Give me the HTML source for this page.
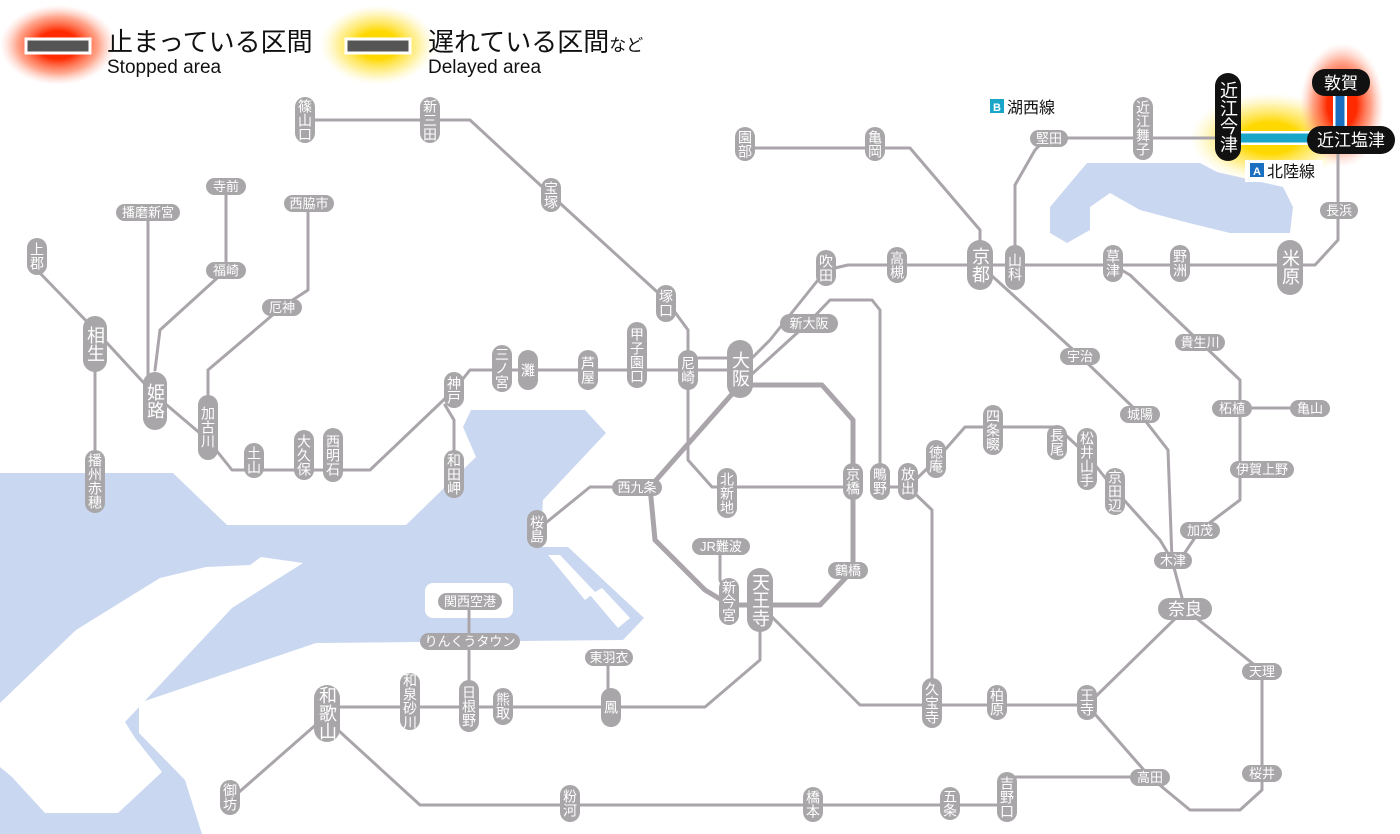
<!DOCTYPE html>
<html><head><meta charset="utf-8"><style>
html,body{margin:0;padding:0;background:#fff;}
svg{display:block;}
.l{fill:none;stroke:#aaa5aa;stroke-width:3;stroke-linejoin:round;stroke-linecap:round;}
.t{fill:none;stroke:#aaa5aa;stroke-width:5;stroke-linejoin:round;}
.p{fill:#a8a6a8;}
.v{font-family:"Liberation Sans","Noto Sans CJK JP",sans-serif;font-size:14px;fill:#fff;writing-mode:vertical-rl;text-anchor:middle;}
.vb{font-size:18px;}
.h{font-family:"Liberation Sans","Noto Sans CJK JP",sans-serif;font-size:13px;fill:#fff;text-anchor:middle;}
.hb{font-size:17px;}
.k{fill:#111;}
</style></head><body>
<svg width="1400" height="834" viewBox="0 0 1400 834" xmlns="http://www.w3.org/2000/svg">
<defs>
<radialGradient id="rg"><stop offset="0.35" stop-color="#ff2a00"/><stop offset="0.7" stop-color="#ff6a40" stop-opacity="0.6"/><stop offset="1" stop-color="#ffb0a0" stop-opacity="0"/></radialGradient>
<radialGradient id="yg"><stop offset="0.35" stop-color="#ffd800"/><stop offset="0.7" stop-color="#ffe860" stop-opacity="0.6"/><stop offset="1" stop-color="#fff5b0" stop-opacity="0"/></radialGradient>
</defs>
<!-- water -->
<path fill="#cad7f0" d="M0,473 L173,473 L227,525 L406,525 L476,457 L463,427 L471,410 L585,410 L606,433 L543,500 L540,547 L568,547 L644,618 L623,640 L316,643 L139,703 L139,733 L185,780 L202,834 L0,834 Z"/>
<path fill="#fff" d="M303,563 L261,557 L250,565 L206,567 L160,578 L76,630 L0,703 L0,767 L12,777 L45,813 L118,813 L162,772 L135,738 L125,722 L232,608 Z"/>
<rect x="425" y="583" width="88" height="35" rx="8" fill="#fff"/>
<path fill="#fff" d="M548,555 L560,555 L595,592 L585,600 Z M590,595 L602,588 L630,618 L618,628 Z"/>
<path fill="#cad7f0" d="M1050,233 L1050,207 L1087,163 L1200,163 L1217,172 L1283,187 L1293,207 L1290,233 L1230,233 L1185,222 L1140,210 L1110,193 L1090,207 L1090,230 L1067,243 Z"/>
<!-- legend -->
<ellipse cx="58" cy="45" rx="58" ry="40" fill="url(#rg)"/>
<rect x="26" y="39" width="64" height="14" fill="#555" stroke="#fff" stroke-width="3"/>
<text x="107" y="51" font-family="Liberation Sans,Noto Sans CJK JP,sans-serif" font-size="26" fill="#111">止まっている区間</text>
<text x="107" y="73" font-family="Liberation Sans,Noto Sans CJK JP,sans-serif" font-size="19" fill="#111">Stopped area</text>
<ellipse cx="378" cy="45" rx="58" ry="40" fill="url(#yg)"/>
<rect x="346" y="39" width="64" height="14" fill="#555" stroke="#fff" stroke-width="3"/>
<text x="428" y="51" font-family="Liberation Sans,Noto Sans CJK JP,sans-serif" font-size="26" fill="#111">遅れている区間<tspan font-size="17">など</tspan></text>
<text x="428" y="73" font-family="Liberation Sans,Noto Sans CJK JP,sans-serif" font-size="19" fill="#111">Delayed area</text>
<!-- glows for Hokuriku -->
<ellipse cx="1270" cy="138" rx="80" ry="45" fill="url(#yg)"/>
<ellipse cx="1342" cy="105" rx="42" ry="62" fill="url(#rg)"/>
<!-- lines -->
<polyline class="l" points="305,120 470,120 551,195 666,300 688,330 688,460 712,487 853,487"/>
<polyline class="l" points="37,255 37,270 95,330 155,395 208,440 232,470 370,470 454,390 470,370 740,370"/>
<polyline class="l" points="688,358 740,358"/>
<polyline class="l" points="740,370 770,340 826,270 848,265 1315,265 1338,240 1338,140"/>
<polyline class="l" points="740,385 808,323 830,300 872,300 880,310 880,487 908,487"/>
<polyline class="l" points="148,212 148,385 155,395"/>
<polyline class="l" points="226,186 226,270 160,330 155,370"/>
<polyline class="l" points="308,203 308,290 282,307 208,370 208,400"/>
<polyline class="l" points="95,340 95,490"/>
<polyline class="l" points="445,405 454,420 454,475"/>
<polyline class="t" points="740,385 822,385 853,420 853,570 820,605 730,605 705,590 655,540 650,487 740,385"/>
<polyline class="l" points="637,487 590,487 537,530"/>
<polyline class="l" points="720,546 720,580 729,600"/>
<polyline class="l" points="760,605 860,705 1087,705 1185,609"/>
<polyline class="l" points="760,632 760,660 705,707 327,707"/>
<polyline class="l" points="469,601 469,707"/>
<polyline class="l" points="608,657 608,707"/>
<polyline class="l" points="327,715 230,800"/>
<polyline class="l" points="327,720 420,805 1000,805"/>
<polyline class="l" points="1007,777 1150,777"/>
<polyline class="l" points="1087,705 1150,777 1190,810 1240,810 1262,790 1262,671 1185,609"/>
<polyline class="l" points="980,265 1080,356 1140,414 1168,450 1172,560 1185,609"/>
<polyline class="l" points="908,487 936,460 965,427 1057,427 1087,455 1115,490 1160,540 1172,560"/>
<polyline class="l" points="908,487 932,510 932,700"/>
<polyline class="l" points="1113,265 1130,275 1200,342 1240,380 1240,408 1310,408"/>
<polyline class="l" points="1240,408 1240,500 1200,530 1180,560"/>
<polyline class="l" points="1015,265 1015,185 1035,150 1047,138 1228,138"/>
<polyline class="l" points="745,148 910,148 980,230 980,265"/>
<!-- highlighted -->
<line x1="1228" y1="138" x2="1340" y2="138" stroke="#fff" stroke-width="14"/>
<line x1="1228" y1="138" x2="1340" y2="138" stroke="#1aa6c8" stroke-width="9"/>
<line x1="1340" y1="90" x2="1340" y2="135" stroke="#fff" stroke-width="14"/>
<line x1="1340" y1="90" x2="1340" y2="135" stroke="#1a6fc0" stroke-width="9"/>
<!-- vertical pills -->
<g>
<rect class="p" x="295" y="97" width="20" height="46" rx="10"/><text class="v" x="305" y="120">篠山口</text>
<rect class="p" x="420" y="97" width="20" height="46" rx="10"/><text class="v" x="430" y="120">新三田</text>
<rect class="p" x="541" y="178" width="20" height="34" rx="10"/><text class="v" x="551" y="195">宝塚</text>
<rect class="p" x="735" y="127" width="20" height="34" rx="10"/><text class="v" x="745" y="144">園部</text>
<rect class="p" x="865" y="127" width="20" height="34" rx="10"/><text class="v" x="875" y="144">亀岡</text>
<rect class="p" x="27" y="238" width="20" height="37" rx="10"/><text class="v" x="37" y="256">上郡</text>
<rect class="p" x="83" y="316" width="24" height="56" rx="12"/><text class="v vb" x="95" y="344">相生</text>
<rect class="p" x="143" y="372" width="24" height="58" rx="12"/><text class="v vb" x="155" y="401">姫路</text>
<rect class="p" x="198" y="395" width="20" height="65" rx="10"/><text class="v" x="208" y="427">加古川</text>
<rect class="p" x="244" y="443" width="20" height="35" rx="10"/><text class="v" x="254" y="460">土山</text>
<rect class="p" x="294" y="430" width="20" height="50" rx="10"/><text class="v" x="304" y="455">大久保</text>
<rect class="p" x="323" y="428" width="20" height="54" rx="10"/><text class="v" x="333" y="455">西明石</text>
<rect class="p" x="444" y="372" width="20" height="36" rx="10"/><text class="v" x="454" y="390">神戸</text>
<rect class="p" x="444" y="450" width="20" height="48" rx="10"/><text class="v" x="454" y="474">和田岬</text>
<rect class="p" x="492" y="345" width="20" height="47" rx="10"/><text class="v" x="502" y="368">三ノ宮</text>
<rect class="p" x="518" y="350" width="20" height="40" rx="10"/><text class="v" x="528" y="370">灘</text>
<rect class="p" x="578" y="350" width="20" height="40" rx="10"/><text class="v" x="588" y="370">芦屋</text>
<rect class="p" x="627" y="322" width="20" height="66" rx="10"/><text class="v" x="637" y="355">甲子園口</text>
<rect class="p" x="656" y="285" width="20" height="37" rx="10"/><text class="v" x="666" y="303">塚口</text>
<rect class="p" x="678" y="350" width="20" height="40" rx="10"/><text class="v" x="688" y="370">尼崎</text>
<rect class="p" x="727" y="340" width="26" height="58" rx="13"/><text class="v vb" x="740" y="369">大阪</text>
<rect class="p" x="816" y="250" width="20" height="36" rx="10"/><text class="v" x="826" y="268">吹田</text>
<rect class="p" x="887" y="247" width="20" height="36" rx="10"/><text class="v" x="897" y="265">高槻</text>
<rect class="p" x="967" y="240" width="26" height="50" rx="13"/><text class="v vb" x="980" y="265">京都</text>
<rect class="p" x="1005" y="245" width="20" height="45" rx="10"/><text class="v" x="1015" y="267">山科</text>
<rect class="p" x="1103" y="245" width="20" height="37" rx="10"/><text class="v" x="1113" y="263">草津</text>
<rect class="p" x="1170" y="245" width="20" height="37" rx="10"/><text class="v" x="1180" y="263">野洲</text>
<rect class="p" x="1277" y="240" width="26" height="55" rx="13"/><text class="v vb" x="1290" y="267">米原</text>
<rect class="p" x="1133" y="97" width="20" height="63" rx="10"/><text class="v" x="1143" y="128">近江舞子</text>
<rect class="p" x="85" y="450" width="20" height="63" rx="10"/><text class="v" x="95" y="481">播州赤穂</text>
<rect class="p" x="717" y="468" width="20" height="50" rx="10"/><text class="v" x="727" y="493">北新地</text>
<rect class="p" x="843" y="463" width="20" height="37" rx="10"/><text class="v" x="853" y="481">京橋</text>
<rect class="p" x="870" y="463" width="20" height="37" rx="10"/><text class="v" x="880" y="481">鴫野</text>
<rect class="p" x="898" y="463" width="20" height="37" rx="10"/><text class="v" x="908" y="481">放出</text>
<rect class="p" x="926" y="440" width="20" height="38" rx="10"/><text class="v" x="936" y="459">徳庵</text>
<rect class="p" x="983" y="405" width="20" height="50" rx="10"/><text class="v" x="993" y="430">四条畷</text>
<rect class="p" x="1047" y="425" width="20" height="35" rx="10"/><text class="v" x="1057" y="442">長尾</text>
<rect class="p" x="1077" y="428" width="20" height="62" rx="10"/><text class="v" x="1087" y="459">松井山手</text>
<rect class="p" x="1105" y="468" width="20" height="47" rx="10"/><text class="v" x="1115" y="491">京田辺</text>
<rect class="p" x="527" y="510" width="20" height="38" rx="10"/><text class="v" x="537" y="529">桜島</text>
<rect class="p" x="719" y="578" width="20" height="47" rx="10"/><text class="v" x="729" y="601">新今宮</text>
<rect class="p" x="747" y="568" width="26" height="64" rx="13"/><text class="v vb" x="760" y="600">天王寺</text>
<rect class="p" x="922" y="678" width="20" height="50" rx="10"/><text class="v" x="932" y="703">久宝寺</text>
<rect class="p" x="987" y="685" width="20" height="35" rx="10"/><text class="v" x="997" y="702">柏原</text>
<rect class="p" x="1077" y="685" width="20" height="35" rx="10"/><text class="v" x="1087" y="702">王寺</text>
<rect class="p" x="314" y="685" width="26" height="57" rx="13"/><text class="v vb" x="327" y="713">和歌山</text>
<rect class="p" x="400" y="673" width="20" height="57" rx="10"/><text class="v" x="410" y="701">和泉砂川</text>
<rect class="p" x="459" y="680" width="20" height="52" rx="10"/><text class="v" x="469" y="706">日根野</text>
<rect class="p" x="493" y="688" width="20" height="37" rx="10"/><text class="v" x="503" y="706">熊取</text>
<rect class="p" x="601" y="688" width="20" height="39" rx="10"/><text class="v" x="611" y="707">鳳</text>
<rect class="p" x="220" y="780" width="20" height="35" rx="10"/><text class="v" x="230" y="797">御坊</text>
<rect class="p" x="560" y="785" width="20" height="37" rx="10"/><text class="v" x="570" y="803">粉河</text>
<rect class="p" x="803" y="787" width="20" height="35" rx="10"/><text class="v" x="813" y="804">橋本</text>
<rect class="p" x="940" y="787" width="20" height="33" rx="10"/><text class="v" x="950" y="803">五条</text>
<rect class="p" x="997" y="772" width="20" height="50" rx="10"/><text class="v" x="1007" y="797">吉野口</text>
</g>
<!-- horizontal pills -->
<g>
<rect class="p" x="206" y="178" width="40" height="17" rx="8.5"/><text class="h" x="226" y="191">寺前</text>
<rect class="p" x="116" y="204" width="64" height="17" rx="8.5"/><text class="h" x="148" y="217">播磨新宮</text>
<rect class="p" x="284" y="195" width="50" height="17" rx="8.5"/><text class="h" x="309" y="208">西脇市</text>
<rect class="p" x="206" y="262" width="40" height="17" rx="8.5"/><text class="h" x="226" y="275">福崎</text>
<rect class="p" x="262" y="299" width="40" height="17" rx="8.5"/><text class="h" x="282" y="312">厄神</text>
<rect class="p" x="780" y="314" width="58" height="19" rx="9.5"/><text class="h" x="809" y="328" font-size="14">新大阪</text>
<rect class="p" x="612" y="479" width="50" height="17" rx="8.5"/><text class="h" x="637" y="492">西九条</text>
<rect class="p" x="692" y="538" width="58" height="17" rx="8.5"/><text class="h" x="721" y="551">JR難波</text>
<rect class="p" x="828" y="562" width="40" height="17" rx="8.5"/><text class="h" x="848" y="575">鶴橋</text>
<rect class="p" x="1060" y="348" width="40" height="17" rx="8.5"/><text class="h" x="1080" y="361">宇治</text>
<rect class="p" x="1120" y="406" width="40" height="17" rx="8.5"/><text class="h" x="1140" y="419">城陽</text>
<rect class="p" x="1175" y="334" width="50" height="17" rx="8.5"/><text class="h" x="1200" y="347">貴生川</text>
<rect class="p" x="1212" y="400" width="40" height="17" rx="8.5"/><text class="h" x="1232" y="413">柘植</text>
<rect class="p" x="1290" y="400" width="40" height="17" rx="8.5"/><text class="h" x="1310" y="413">亀山</text>
<rect class="p" x="1230" y="461" width="64" height="17" rx="8.5"/><text class="h" x="1262" y="474">伊賀上野</text>
<rect class="p" x="1180" y="522" width="40" height="17" rx="8.5"/><text class="h" x="1200" y="535">加茂</text>
<rect class="p" x="1154" y="552" width="38" height="17" rx="8.5"/><text class="h" x="1173" y="565">木津</text>
<rect class="p" x="1158" y="598" width="54" height="22" rx="11"/><text class="h hb" x="1185" y="615">奈良</text>
<rect class="p" x="1242" y="663" width="40" height="17" rx="8.5"/><text class="h" x="1262" y="676">天理</text>
<rect class="p" x="1242" y="765" width="40" height="17" rx="8.5"/><text class="h" x="1262" y="778">桜井</text>
<rect class="p" x="1130" y="769" width="40" height="17" rx="8.5"/><text class="h" x="1150" y="782">高田</text>
<rect class="p" x="438" y="593" width="64" height="17" rx="8.5"/><text class="h" x="470" y="606">関西空港</text>
<rect class="p" x="420" y="633" width="100" height="17" rx="8.5"/><text class="h" x="470" y="646">りんくうタウン</text>
<rect class="p" x="585" y="649" width="48" height="17" rx="8.5"/><text class="h" x="609" y="662">東羽衣</text>
<rect class="p" x="1030" y="130" width="38" height="17" rx="8.5"/><text class="h" x="1049" y="143">堅田</text>
<rect class="p" x="1320" y="202" width="38" height="17" rx="8.5"/><text class="h" x="1339" y="215">長浜</text>
</g>
<!-- black -->
<rect class="k" x="1215" y="73" width="26" height="88" rx="13"/><text class="v vb" x="1228" y="117">近江今津</text>
<rect class="k" x="1312" y="69" width="58" height="27" rx="13"/><text class="h hb" x="1341" y="89">敦賀</text>
<rect class="k" x="1307" y="126" width="88" height="28" rx="14"/><text class="h hb" x="1351" y="146">近江塩津</text>
<!-- line labels -->
<rect x="985" y="96" width="84" height="22" fill="#fff"/>
<rect x="990" y="99" width="14" height="14" fill="#1aa6c8"/><text x="997" y="111" font-family="Liberation Sans,sans-serif" font-size="11" font-weight="bold" fill="#fff" text-anchor="middle">B</text>
<text x="1007" y="113" font-family="Liberation Sans,Noto Sans CJK JP,sans-serif" font-size="16" fill="#111">湖西線</text>
<rect x="1245" y="160" width="78" height="22" fill="#fff"/>
<rect x="1250" y="163" width="14" height="14" fill="#1a6fc0"/><text x="1257" y="175" font-family="Liberation Sans,sans-serif" font-size="11" font-weight="bold" fill="#fff" text-anchor="middle">A</text>
<text x="1267" y="177" font-family="Liberation Sans,Noto Sans CJK JP,sans-serif" font-size="16" fill="#111">北陸線</text>
</svg>
</body></html>
